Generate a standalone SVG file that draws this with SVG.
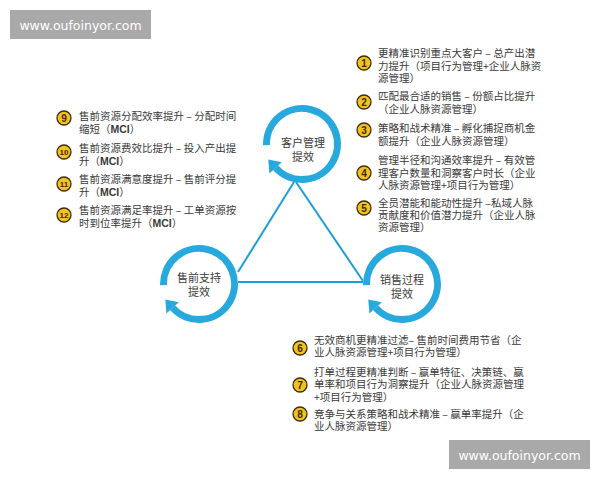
<svg xmlns="http://www.w3.org/2000/svg" xmlns:xlink="http://www.w3.org/1999/xlink" width="600" height="480" viewBox="0 0 600 480">
<style>
.t{font-family:"Noto Sans CJK SC","Noto Sans",sans-serif;font-size:10.5px;fill:#3a3a3a}
.c{font-family:"Noto Sans CJK SC","Noto Sans",sans-serif;font-size:11px;fill:#3a3a3a;text-anchor:middle}
.b{fill:#f4c21e;stroke:#3b2f0c;stroke-width:1.3}
.n{font-family:"Liberation Sans",Arial,sans-serif;font-weight:bold;fill:#3b2c00;text-anchor:middle}
.m{font-family:"Liberation Sans",Arial,sans-serif;font-weight:bold}
.w{fill:#a9a9a9}
.wt{font-family:"DejaVu Sans","Liberation Sans",sans-serif;font-size:12.5px;fill:#ffffff;text-anchor:middle}
.edge{stroke:#1d9fd6;stroke-width:2;fill:none}
</style>
<defs>
<g id="ring">
<path d="M -35.48 1.24 A 35.5 35.5 0 1 1 -26.38 23.75" fill="none" stroke="#27a9dd" stroke-width="7"/>
<polygon points="-33.74,15.58 -32.6,29.4 -20.2,18.2" fill="#27a9dd"/>
</g>
</defs>
<rect width="600" height="480" fill="#ffffff"/>

<g id="watermark-top">
<rect class="w" x="10" y="10" width="141" height="29"/>
<text class="wt" x="80.5" y="29.5">www.oufoinyor.com</text>
</g>
<g id="watermark-bottom">
<rect class="w" x="449" y="440" width="141" height="29"/>
<text class="wt" x="519.5" y="459.5">www.oufoinyor.com</text>
</g>

<g id="connectors">
<line class="edge" x1="294" y1="182" x2="238" y2="272"/>
<line class="edge" x1="296" y1="182" x2="363" y2="281"/>
<line class="edge" x1="238" y1="282" x2="363" y2="282"/>
</g>

<g id="node-customer">
<use xlink:href="#ring" transform="translate(302,144)"/>
<text class="c" x="303" y="147">客户管理</text>
<text class="c" x="303" y="161">提效</text>
</g>
<g id="node-presales">
<use xlink:href="#ring" transform="translate(199,284)"/>
<text class="c" x="199" y="282">售前支持</text>
<text class="c" x="199" y="296">提效</text>
</g>
<g id="node-sales">
<use xlink:href="#ring" transform="translate(402,284)"/>
<text class="c" x="402" y="284">销售过程</text>
<text class="c" x="402" y="298">提效</text>
</g>

<g id="item-1">
<circle class="b" cx="364" cy="63" r="7"/><text class="n" x="364" y="66.5" font-size="10">1</text>
<text class="t" x="378" y="57">更精准识别重点大客户 – 总产出潜</text>
<text class="t" x="378" y="70">力提升（项目行为管理+企业人脉资</text>
<text class="t" x="378" y="82">源管理）</text>
</g>
<g id="item-2">
<circle class="b" cx="364" cy="102" r="7"/><text class="n" x="364" y="105.5" font-size="10">2</text>
<text class="t" x="378" y="100">匹配最合适的销售 – 份额占比提升</text>
<text class="t" x="378" y="113">（企业人脉资源管理）</text>
</g>
<g id="item-3">
<circle class="b" cx="364" cy="130" r="7"/><text class="n" x="364" y="133.5" font-size="10">3</text>
<text class="t" x="378" y="132">策略和战术精准 – 孵化捕捉商机金</text>
<text class="t" x="378" y="145">额提升（企业人脉资源管理）</text>
</g>
<g id="item-4">
<circle class="b" cx="364" cy="173" r="7"/><text class="n" x="364" y="176.5" font-size="10">4</text>
<text class="t" x="378" y="164">管理半径和沟通效率提升 – 有效管</text>
<text class="t" x="378" y="177">理客户数量和洞察客户时长（企业</text>
<text class="t" x="378" y="189">人脉资源管理+项目行为管理）</text>
</g>
<g id="item-5">
<circle class="b" cx="364" cy="208" r="7"/><text class="n" x="364" y="211.5" font-size="10">5</text>
<text class="t" x="378" y="207">全员潜能和能动性提升 –私域人脉</text>
<text class="t" x="378" y="219">贡献度和价值潜力提升（企业人脉</text>
<text class="t" x="378" y="231">资源管理）</text>
</g>

<g id="item-6">
<circle class="b" cx="300" cy="348" r="7"/><text class="n" x="300" y="351.5" font-size="10">6</text>
<text class="t" x="314" y="344">无效商机更精准过滤– 售前时间费用节省（企</text>
<text class="t" x="314" y="356">业人脉资源管理+项目行为管理）</text>
</g>
<g id="item-7">
<circle class="b" cx="300" cy="385" r="7"/><text class="n" x="300" y="388.5" font-size="10">7</text>
<text class="t" x="314" y="376">打单过程更精准判断 – 赢单特征、决策链、赢</text>
<text class="t" x="314" y="388">单率和项目行为洞察提升（企业人脉资源管理</text>
<text class="t" x="314" y="401">+项目行为管理）</text>
</g>
<g id="item-8">
<circle class="b" cx="300" cy="414" r="7"/><text class="n" x="300" y="417.5" font-size="10">8</text>
<text class="t" x="314" y="418">竞争与关系策略和战术精准 – 赢单率提升（企</text>
<text class="t" x="314" y="430">业人脉资源管理）</text>
</g>

<g id="item-9">
<circle class="b" cx="64" cy="118" r="7"/><text class="n" x="64" y="121.5" font-size="10">9</text>
<text class="t" x="79" y="120">售前资源分配效率提升 – 分配时间</text>
<text class="t" x="79" y="133">缩短（<tspan class="m">MCI</tspan>）</text>
</g>
<g id="item-10">
<circle class="b" cx="64" cy="152" r="7"/><text class="n" x="64" y="155" font-size="8">10</text>
<text class="t" x="79" y="152">售前资源费效比提升 – 投入产出提</text>
<text class="t" x="79" y="165">升（<tspan class="m">MCI</tspan>）</text>
</g>
<g id="item-11">
<circle class="b" cx="64" cy="184" r="7"/><text class="n" x="64" y="187" font-size="8">11</text>
<text class="t" x="79" y="183">售前资源满意度提升 – 售前评分提</text>
<text class="t" x="79" y="196">升（<tspan class="m">MCI</tspan>）</text>
</g>
<g id="item-12">
<circle class="b" cx="64" cy="215" r="7"/><text class="n" x="64" y="218" font-size="8">12</text>
<text class="t" x="79" y="214">售前资源满足率提升 – 工单资源按</text>
<text class="t" x="79" y="227">时到位率提升（<tspan class="m">MCI</tspan>）</text>
</g>
</svg>
